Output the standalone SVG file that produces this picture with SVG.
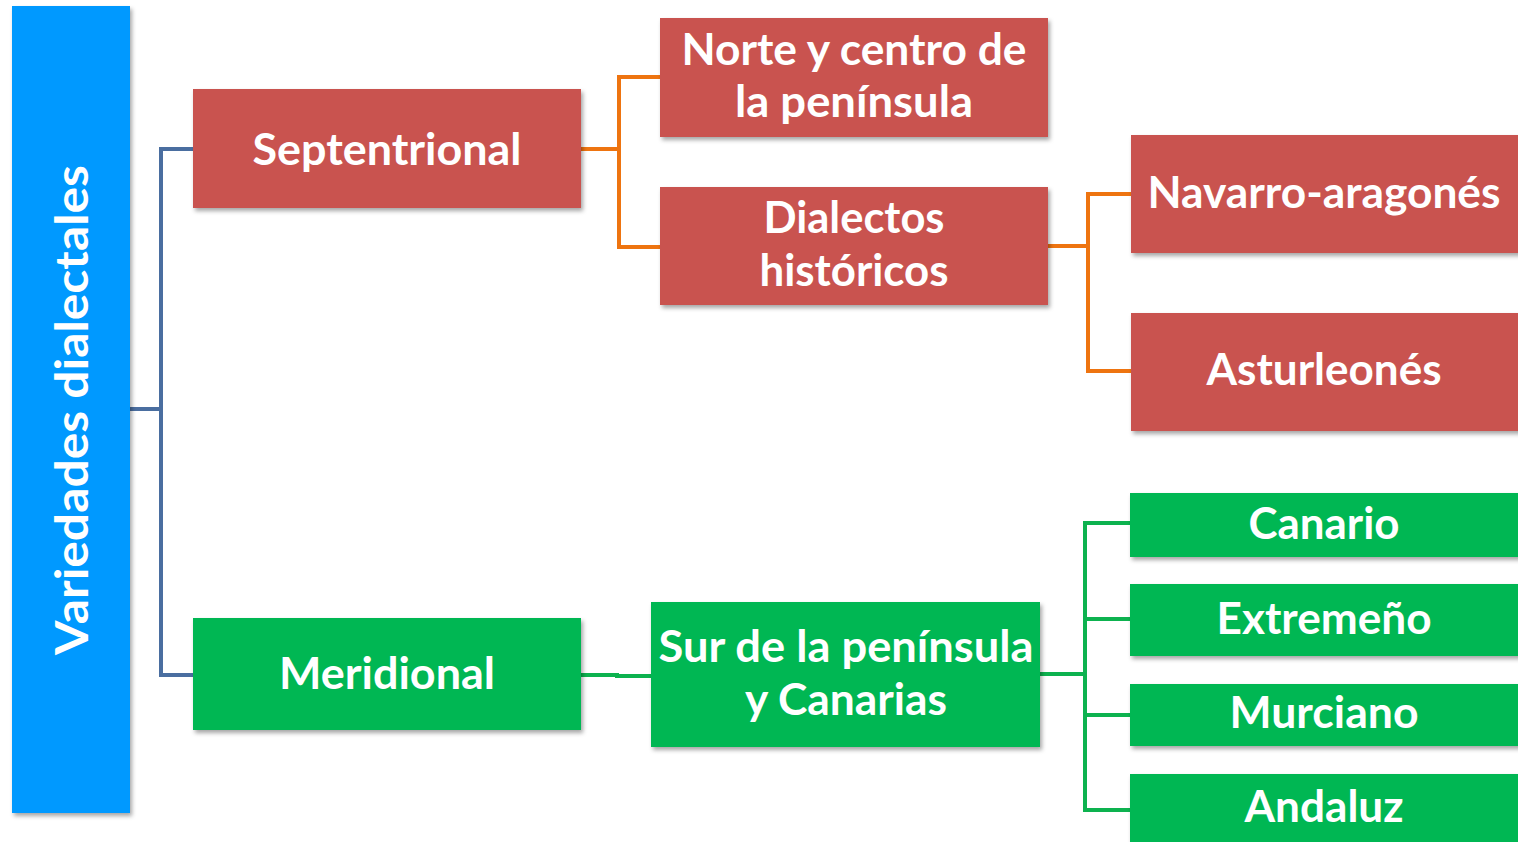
<svg xmlns="http://www.w3.org/2000/svg" width="1518" height="842" viewBox="0 0 1518 842">
<defs>
<filter id="sh" x="-10%" y="-10%" width="120%" height="130%">
<feDropShadow dx="2" dy="3" stdDeviation="2" flood-color="#000" flood-opacity="0.35"/>
</filter>
<style>
.red{fill:#C9534F;filter:url(#sh)}
.green{fill:#03B753;filter:url(#sh)}
.blue{fill:#0099FF;filter:url(#sh)}
.t{font-family:Lato,"Open Sans","Liberation Sans",sans-serif;font-weight:bold;font-size:44px;fill:#fff;text-anchor:middle}
.c{fill:none;stroke-width:4;stroke-linejoin:miter}
.cb{stroke:#4A6EA0}
.co{stroke:#EE7410}
.cg{stroke:#0DB24F}
</style>
</defs>
<rect width="1518" height="842" fill="#fff"/>
<g id="connectors">
<path class="c cb" d="M130 409H161M193 149H161V675H193"/>
<path class="c co" d="M581 149H619M660 77H619V247H660"/>
<path class="c co" d="M1048 246H1088M1131 194H1088V371H1131"/>
<path class="c cg" d="M581 675H617V676H651"/>
<path class="c cg" d="M1040 674H1085M1130 523H1085V810H1130M1085 619H1130M1085 715H1130"/>
</g>
<g id="n-variedades">
<rect class="blue" x="12" y="6" width="118" height="807"/>
<text class="t" font-size="46" transform="translate(88 410) rotate(-90)" style="font-size:46px" textLength="490" lengthAdjust="spacingAndGlyphs">Variedades dialectales</text>
</g>
<g id="n-septentrional">
<rect class="red" x="193" y="89" width="388" height="119"/>
<text class="t" x="387" y="165" textLength="269" lengthAdjust="spacingAndGlyphs">Septentrional</text>
</g>
<g id="n-norte">
<rect class="red" x="660" y="18" width="388" height="119"/>
<text class="t" x="854" y="65" textLength="345" lengthAdjust="spacingAndGlyphs">Norte y centro de</text>
<text class="t" x="854" y="117" textLength="238" lengthAdjust="spacingAndGlyphs">la península</text>
</g>
<g id="n-dialectos">
<rect class="red" x="660" y="187" width="388" height="118"/>
<text class="t" x="854" y="233" textLength="181" lengthAdjust="spacingAndGlyphs">Dialectos</text>
<text class="t" x="854" y="286" textLength="189" lengthAdjust="spacingAndGlyphs">históricos</text>
</g>
<g id="n-navarro">
<rect class="red" x="1131" y="135" width="390" height="118"/>
<text class="t" x="1324" y="208" textLength="353" lengthAdjust="spacingAndGlyphs">Navarro-aragonés</text>
</g>
<g id="n-asturleones">
<rect class="red" x="1131" y="313" width="390" height="118"/>
<text class="t" x="1324" y="385" textLength="235" lengthAdjust="spacingAndGlyphs">Asturleonés</text>
</g>
<g id="n-meridional">
<rect class="green" x="193" y="618" width="388" height="112"/>
<text class="t" x="387" y="689" textLength="216" lengthAdjust="spacingAndGlyphs">Meridional</text>
</g>
<g id="n-sur">
<rect class="green" x="651" y="602" width="389" height="145"/>
<text class="t" x="846" y="662" textLength="375" lengthAdjust="spacingAndGlyphs">Sur de la península</text>
<text class="t" x="846" y="715" textLength="202" lengthAdjust="spacingAndGlyphs">y Canarias</text>
</g>
<g id="n-canario">
<rect class="green" x="1130" y="493" width="392" height="64"/>
<text class="t" x="1324" y="539" textLength="151" lengthAdjust="spacingAndGlyphs">Canario</text>
</g>
<g id="n-extremeno">
<rect class="green" x="1130" y="584" width="392" height="72"/>
<text class="t" x="1324" y="634" textLength="215" lengthAdjust="spacingAndGlyphs">Extremeño</text>
</g>
<g id="n-murciano">
<rect class="green" x="1130" y="684" width="392" height="62"/>
<text class="t" x="1324" y="728" textLength="189" lengthAdjust="spacingAndGlyphs">Murciano</text>
</g>
<g id="n-andaluz">
<rect class="green" x="1130" y="774" width="392" height="72"/>
<text class="t" x="1324" y="822" textLength="159" lengthAdjust="spacingAndGlyphs">Andaluz</text>
</g>
</svg>
